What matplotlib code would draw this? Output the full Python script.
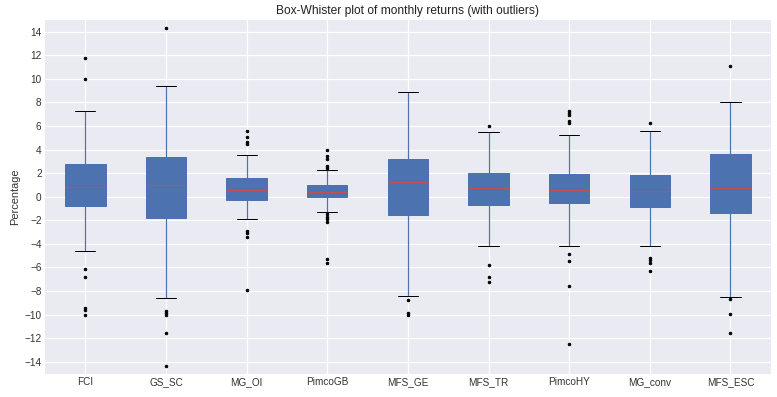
import matplotlib.pyplot as plt

funds = ["FCI", "GS_SC", "MG_OI", "PimcoGB", "MFS_GE", "MFS_TR", "PimcoHY", "MG_conv", "MFS_ESC"]
med = [0.86, 0.97, 0.61, 0.44, 1.29, 0.78, 0.61, 0.52, 0.78]
q1 = [-0.78, -1.79, -0.27, -0.02, -1.54, -0.69, -0.52, -0.86, -1.37]
q3 = [2.75, 3.35, 1.57, 0.97, 3.24, 1.99, 1.91, 1.82, 3.60]
whislo = [-4.64, -8.60, -1.93, -1.26, -8.38, -4.17, -4.14, -4.22, -8.54]
whishi = [7.30, 9.42, 3.52, 2.30, 8.91, 5.52, 5.27, 5.61, 8.07]
fliers = [
    [11.76, 10.02, -6.17, -6.85, -9.47, -9.6, -10.07],
    [14.34, -9.67, -9.9, -10.07, -11.6, -14.39],
    [5.55, 5.04, 4.65, 4.48, -2.87, -3.04, -3.38, -7.87],
    [4.0, 3.43, 3.24, 2.61, 2.47, -1.48, -1.68, -1.9, -2.13, -5.32, -5.66],
    [-8.8, -9.82, -9.99],
    [6.03, -5.83, -6.85, -7.27],
    [7.25, 7.08, 6.9, 6.4, 6.23, -4.82, -5.41, -7.61, -12.53],
    [6.29, -5.21, -5.38, -5.58, -6.26],
    [11.12, -8.71, -9.98, -11.59],
]

plt.style.use("seaborn-v0_8-darkgrid")
plt.rcParams["font.family"] = ["Liberation Sans", "DejaVu Sans"]

stats = []
for i in range(len(funds)):
    stats.append(dict(label=funds[i], med=med[i], q1=q1[i], q3=q3[i],
                      whislo=whislo[i], whishi=whishi[i], fliers=fliers[i]))

fig = plt.figure(figsize=(777 / 72, 397 / 72), dpi=72)
ax = fig.add_axes([0.058, 0.059, 0.934, 0.891])
ax.bxp(stats, patch_artist=True, widths=0.5,
       boxprops=dict(facecolor="#4C72B0", edgecolor="#4C72B0"),
       medianprops=dict(color="#C44E52", linewidth=1.2),
       whiskerprops=dict(color="#4C72B0", linewidth=1.2),
       capprops=dict(color="black", linewidth=1.0),
       flierprops=dict(marker="o", markersize=2.5, markerfacecolor="black",
                       markeredgecolor="black"))
ax.set_ylim(-15, 15)
ax.set_yticks(range(-14, 15, 2))
ax.tick_params(labelsize=10, colors="#333333")
ax.set_ylabel("Percentage", fontsize=11, color="#333333")
ax.set_title("Box-Whister plot of monthly returns (with outliers)", fontsize=12, color="#222222")
ax.grid(True, color="white", linewidth=1.2)

fig.savefig("out.png", dpi=72)
